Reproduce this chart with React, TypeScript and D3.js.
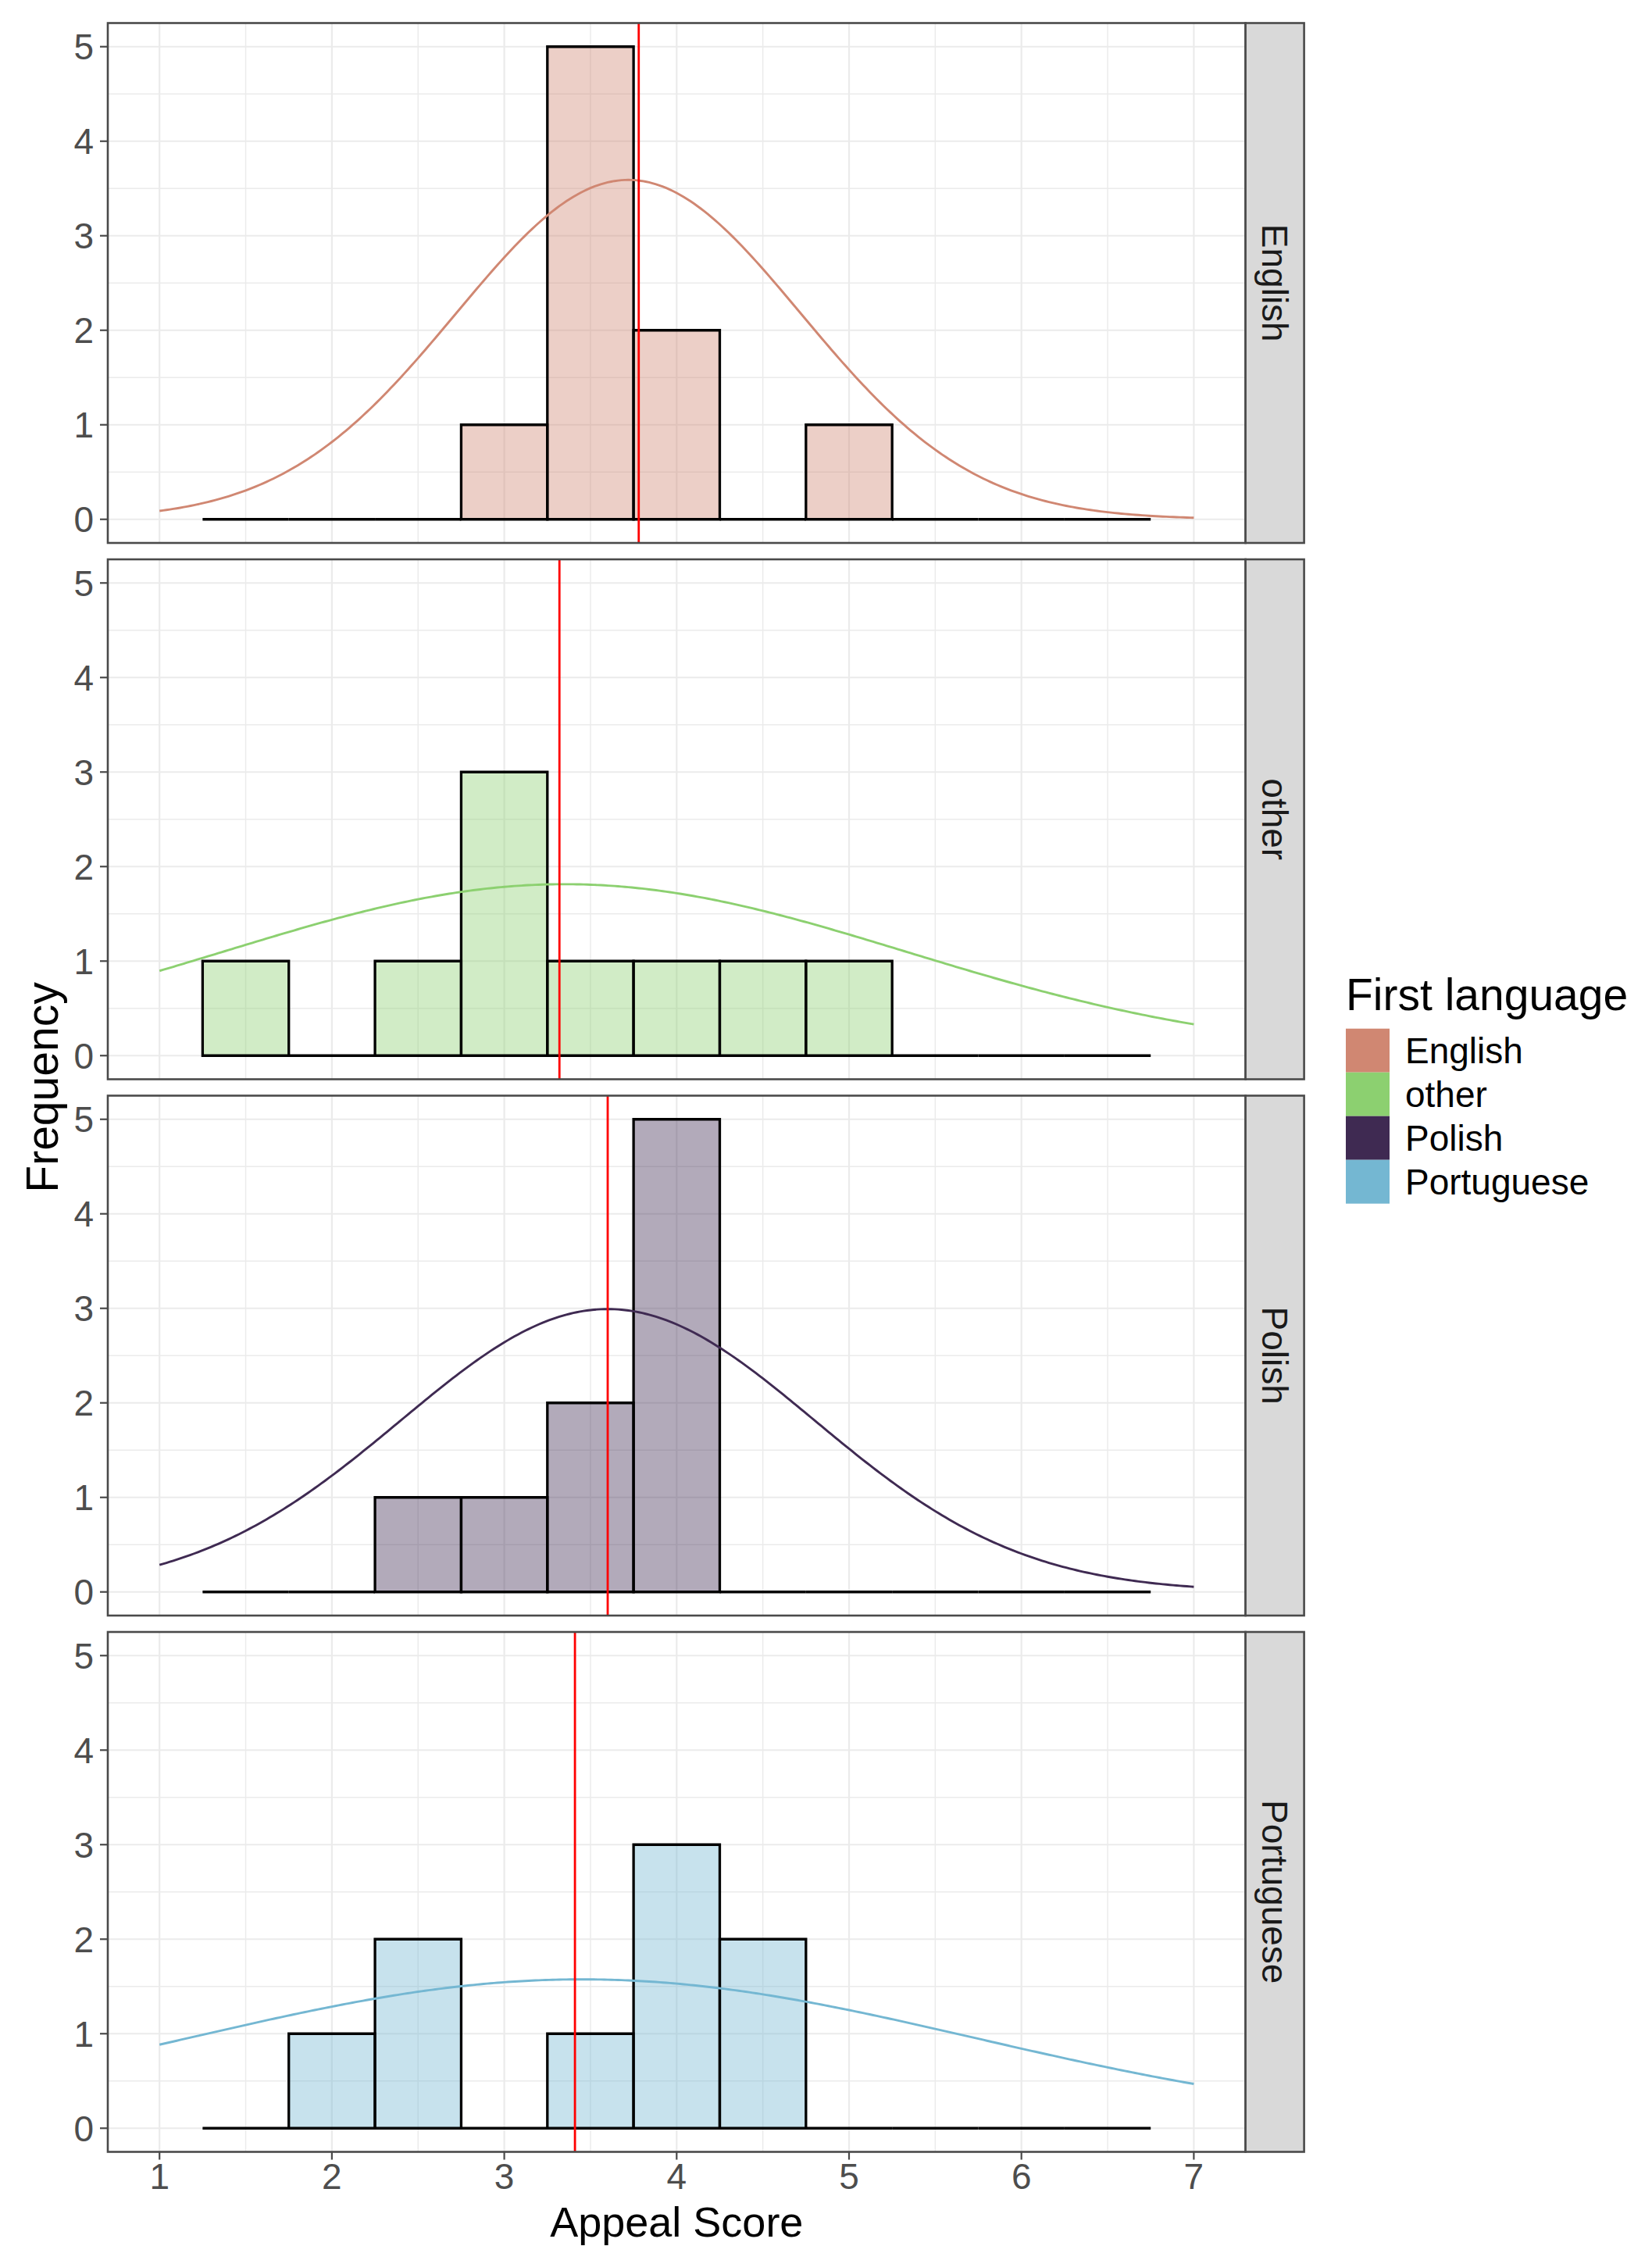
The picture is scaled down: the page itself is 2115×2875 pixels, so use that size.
import React from 'react';
import * as d3 from 'd3';

// histogram bins (binwidth 0.5) and counts per first language
const binCenters = [1.5, 2, 2.5, 3, 3.5, 4, 4.5, 5, 5.5, 6, 6.5];
const englishCounts = [0, 0, 0, 1, 5, 2, 0, 1, 0, 0, 0];
const otherCounts = [1, 0, 1, 3, 1, 1, 1, 1, 0, 0, 0];
const polishCounts = [0, 0, 1, 1, 2, 5, 0, 0, 0, 0, 0];
const portugueseCounts = [0, 1, 2, 0, 1, 3, 2, 0, 0, 0, 0];

const languages = ['English', 'other', 'Polish', 'Portuguese'];
const langColors = ['#D08772', '#8CD070', '#3F2A52', '#74B7D2'];

// red reference line (mean) and fitted normal curve per panel
const meanLines = [3.78, 3.32, 3.6, 3.41];
const curveMeans = [3.72, 3.35, 3.6, 3.45];
const curveSds = [1.0, 1.98, 1.2, 2.28];
const curveTotal = 9;

const xTicks = [1, 2, 3, 4, 5, 6, 7];
const yTicks = [0, 1, 2, 3, 4, 5];

const counts = [englishCounts, otherCounts, polishCounts, portugueseCounts];

export default function App() {
  const width = 2115;
  const height = 2875;
  const left = 138;
  const right = 1594.6;
  const top0 = 29.5;
  const panelH = 665.5;
  const gap = 21;
  const stripW = 75;
  const binW = 0.5;
  const font = "'Liberation Sans', Arial, Helvetica, sans-serif";

  const x = d3.scaleLinear().domain([0.7, 7.3]).range([left, right]);
  const xMinor = d3.range(1.5, 7, 1);
  const yMinor = d3.range(0.5, 5, 1);
  const curveXs = d3.range(1, 7.0001, 0.02);

  const normal = (v: number, m: number, s: number) =>
    (curveTotal / (s * Math.sqrt(2 * Math.PI))) * Math.exp(-((v - m) ** 2) / (2 * s * s));

  const lastBottom = top0 + 3 * (panelH + gap) + panelH;

  return (
    <svg width={width} height={height} style={{ position: 'absolute', left: 0, top: 0, background: '#fff' }} fontFamily={font}>
      <rect width={width} height={height} fill="#fff" />
      {languages.map((lang, i) => {
        const top = top0 + i * (panelH + gap);
        const bottom = top + panelH;
        const y = d3.scaleLinear().domain([-0.25, 5.25]).range([bottom, top]);
        const line = d3.line<number>()
          .x(d => x(d))
          .y(d => y(normal(d, curveMeans[i], curveSds[i])));
        return (
          <g key={lang}>
            <rect x={left} y={top} width={right - left} height={panelH} fill="#fff" />
            {/* grid */}
            {xMinor.map(v => (
              <line key={'xm' + v} x1={x(v)} x2={x(v)} y1={top} y2={bottom} stroke="#EBEBEB" strokeWidth={1.5} />
            ))}
            {yMinor.map(v => (
              <line key={'ym' + v} x1={left} x2={right} y1={y(v)} y2={y(v)} stroke="#EBEBEB" strokeWidth={1.5} />
            ))}
            {xTicks.map(v => (
              <line key={'xg' + v} x1={x(v)} x2={x(v)} y1={top} y2={bottom} stroke="#EBEBEB" strokeWidth={2.2} />
            ))}
            {yTicks.map(v => (
              <line key={'yg' + v} x1={left} x2={right} y1={y(v)} y2={y(v)} stroke="#EBEBEB" strokeWidth={2.2} />
            ))}
            {/* histogram */}
            {binCenters.map((c, j) => {
              const x0 = x(c - binW / 2);
              const x1 = x(c + binW / 2);
              const y0 = y(0);
              const y1 = y(counts[i][j]);
              return (
                <path key={'b' + j} d={`M${x0},${y0}V${y1}H${x1}V${y0}Z`}
                  fill={langColors[i]} fillOpacity={0.4} stroke="#000" strokeWidth={3.3} strokeLinejoin="miter" />
              );
            })}
            {/* normal curve */}
            <path d={line(curveXs) || ''} fill="none" stroke={langColors[i]} strokeWidth={2.9} />
            {/* mean line */}
            <line x1={x(meanLines[i])} x2={x(meanLines[i])} y1={top} y2={bottom} stroke="#FF0000" strokeWidth={2.8} />
            {/* panel border */}
            <rect x={left} y={top} width={right - left} height={panelH} fill="none" stroke="#4a4a4a" strokeWidth={2.6} />
            {/* strip */}
            <rect x={right} y={top} width={stripW} height={panelH} fill="#D9D9D9" stroke="#4a4a4a" strokeWidth={2.6} />
            <text transform={`translate(${right + stripW / 2},${(top + bottom) / 2}) rotate(90)`} textAnchor="middle"
              dy="0.36em" fontSize={46} fill="#1A1A1A">{lang}</text>
            {/* y axis */}
            {yTicks.map(v => (
              <g key={'yt' + v}>
                <line x1={left - 10} x2={left} y1={y(v)} y2={y(v)} stroke="#4a4a4a" strokeWidth={2.2} />
                <text x={left - 18} y={y(v)} dy="0.36em" textAnchor="end" fontSize={46} fill="#4D4D4D">{v}</text>
              </g>
            ))}
          </g>
        );
      })}
      {/* x axis */}
      {xTicks.map(v => (
        <g key={'xt' + v}>
          <line x1={x(v)} x2={x(v)} y1={lastBottom} y2={lastBottom + 10} stroke="#4a4a4a" strokeWidth={2.2} />
          <text x={x(v)} y={2802} textAnchor="middle" fontSize={46} fill="#4D4D4D">{v}</text>
        </g>
      ))}
      <text x={(left + right) / 2} y={2863} textAnchor="middle" fontSize={54} fill="#000">Appeal Score</text>
      <text transform={`translate(73.5,${(top0 + lastBottom) / 2}) rotate(-90)`} textAnchor="middle" fontSize={57} fill="#000">Frequency</text>
      {/* legend */}
      <text x={1723} y={1292.7} fontSize={57} fill="#000">First language</text>
      {languages.map((lang, i) => (
        <g key={'lg' + lang}>
          <rect x={1723} y={1316.7 + i * 56} width={56} height={56} fill={langColors[i]} />
          <text x={1799} y={1316.7 + i * 56 + 28} dy="0.36em" fontSize={46} fill="#000">{lang}</text>
        </g>
      ))}
    </svg>
  );
}
